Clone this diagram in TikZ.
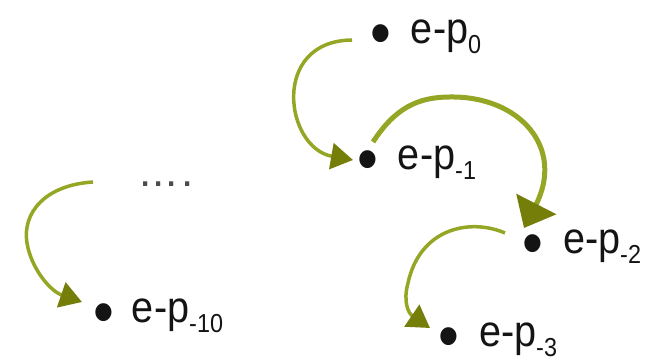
\documentclass[tikz,border=0pt]{standalone}
\usepackage{fontspec}
\setmainfont{Liberation Sans}
\newfontfamily\lblfont[FakeStretch=0.9]{Liberation Sans}
\usetikzlibrary{arrows.meta}
\definecolor{olv}{RGB}{148,166,36}
\definecolor{olvdark}{RGB}{116,126,8}
\newcommand\lowsub[1]{\raisebox{-10pt}{\fontsize{26}{26}\selectfont #1}}
\newcommand\blt{\raisebox{-12pt}[0pt][0pt]{\fontsize{66}{66}\selectfont\textbullet}}
\begin{document}
\begin{tikzpicture}[x=1pt,y=1pt,
  lbl/.style={inner sep=0pt, anchor=base west, text=black!92, font=\lblfont\fontsize{44}{44}\selectfont},
  arr/.style={draw=olv, line width=3.5pt, -{Triangle[length=22pt,width=26pt,color=olvdark]}},
  thickarr/.style={draw=olv, line width=5pt, -{Triangle[length=27pt,width=44pt,color=olvdark]}}]
\useasboundingbox (0,0) rectangle (651,363);
\node[lbl] (p0)  at (370,319) {\blt\hspace{20pt}e-p\lowsub{0}};
\node[lbl] (p1)  at (357,193) {\blt\hspace{20pt}e-p\lowsub{-1}};
\node[lbl] (p2)  at (522,109) {\blt\hspace{20pt}e-p\lowsub{-2}};
\node[lbl] (p3)  at (438,16)  {\blt\hspace{20pt}e-p\lowsub{-3}};
\node[lbl] (p10) at (93,40)   {\blt\hspace{18pt}e-p\lowsub{-10}};
\node[lbl, text=black!70, font=\fontsize{44}{44}\selectfont] (dots) at (139,176) {.\kern1pt.\kern1pt.\kern4pt.};
% connector end points
\coordinate (a0) at (352,323);
\coordinate (a1) at (353,203);
\coordinate (b0) at (373,221);
\coordinate (bt) at (450,266);
\coordinate (b1) at (524,135);
\coordinate (c0) at (505,130);
\coordinate (cl) at (408,80);
\coordinate (c1) at (430,35);
\coordinate (d0) at (93,181);
\coordinate (dl) at (27,120);
\coordinate (d1) at (82,61);
% arrows
\draw[arr] (a0) .. controls (270,322) and (285,215) .. (a1);
\draw[thickarr] (b0) .. controls (395,255) and (418,266) .. (bt) .. controls (520,267) and (565,215) .. (b1);
\draw[arr] (c0) .. controls (470,145) and (420,135) .. (cl) .. controls (403,62) and (408,50) .. (c1);
\draw[arr] (d0) .. controls (45,178) and (22,150) .. (dl) .. controls (31,95) and (50,72) .. (d1);
\end{tikzpicture}
\end{document}
